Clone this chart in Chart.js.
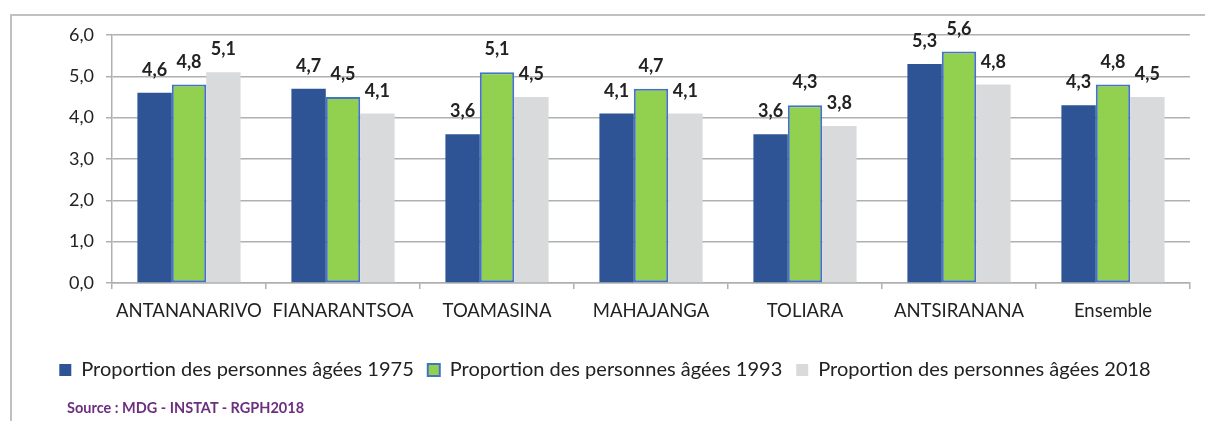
<!DOCTYPE html>
<html>
<head>
<meta charset="utf-8">
<script src="https://cdn.jsdelivr.net/npm/chart.js@4/dist/chart.umd.min.js"></script>
<style>
  html, body { margin: 0; padding: 0; background: #fff; }
  #wrap { position: relative; width: 1205px; height: 421px; overflow: hidden; }
  #frame { position: absolute; left: 10px; top: 14px; right: -5px; bottom: -5px;
    border-left: 2px solid #c0c0c0; border-top: 2px solid #c0c0c0; }
  #source { position: absolute; left: 67px; top: 399px; font: bold 14.5px Lato, sans-serif;
    color: #6d2e80; }
  canvas { position: absolute; left: 0; top: 0; }
</style>
</head>
<body>
<div id="wrap">
  <div id="frame"></div>
  <canvas id="chart" width="1205" height="421"></canvas>
  <div id="source">Source : MDG - INSTAT - RGPH2018</div>
</div>
<script>
'use strict';

var regions = ['ANTANANARIVO', 'FIANARANTSOA', 'TOAMASINA', 'MAHAJANGA', 'TOLIARA', 'ANTSIRANANA', 'Ensemble'];
var seriesNames = ['Proportion des personnes âgées 1975', 'Proportion des personnes âgées 1993', 'Proportion des personnes âgées 2018'];
var values1975 = [4.6, 4.7, 3.6, 4.1, 3.6, 5.3, 4.3];
var values1993 = [4.8, 4.5, 5.1, 4.7, 4.3, 5.6, 4.8];
var values2018 = [5.1, 4.1, 4.5, 4.1, 3.8, 4.8, 4.5];
var yTicks = [0, 1, 2, 3, 4, 5, 6];

function comma(v) {
  return v.toFixed(1).replace('.', ',');
}

// draws the value above each bar
var barLabels = {
  id: 'barLabels',
  afterDatasetsDraw: function (chart) {
    var ctx = chart.ctx;
    ctx.save();
    ctx.font = 'bold 18px Lato, sans-serif';
    ctx.fillStyle = '#222';
    ctx.textAlign = 'center';
    ctx.textBaseline = 'alphabetic';
    chart.data.datasets.forEach(function (ds, i) {
      chart.getDatasetMeta(i).data.forEach(function (bar, j) {
        ctx.fillText(comma(ds.data[j]), bar.x, bar.y - 17);
      });
    });
    ctx.restore();
  }
};

var ctx = document.getElementById('chart').getContext('2d');

var chart = new Chart(ctx, {
  type: 'bar',
  data: {
    labels: regions,
    datasets: [{
      label: seriesNames[0],
      data: values1975,
      backgroundColor: '#2e5496',
      borderWidth: 0
    }, {
      label: seriesNames[1],
      data: values1993,
      backgroundColor: '#92d050',
      borderColor: '#4472c4',
      borderWidth: 2,
      borderSkipped: false
    }, {
      label: seriesNames[2],
      data: values2018,
      backgroundColor: '#d9dadc',
      borderWidth: 0
    }]
  },
  options: {
    responsive: false,
    animation: false,
    categoryPercentage: 0.67,
    barPercentage: 1.0,
    layout: { padding: { left: 20, right: 15, top: 35, bottom: 31 } },
    plugins: {
      tooltip: { enabled: false },
      legend: {
        position: 'bottom',
        labels: {
          boxWidth: 12,
          boxHeight: 12,
          padding: 14,
          color: '#222',
          font: { family: 'Lato', size: 20 }
        }
      }
    },
    scales: {
      x: {
        afterFit: function (scale) { scale.height = 63; },
        grid: { drawOnChartArea: false, drawTicks: true, tickLength: 6, color: '#b0b0b0', lineWidth: 1.5 },
        border: { color: '#b0b0b0', width: 1.5 },
        ticks: { color: '#222', padding: 11, font: { family: 'Lato', size: 18.5 } }
      },
      y: {
        min: 0,
        max: 6,
        afterFit: function (scale) { scale.width = 92; },
        afterBuildTicks: function (scale) {
          scale.ticks = yTicks.map(function (v) { return { value: v }; });
        },
        grid: { color: '#b0b0b0', lineWidth: 1.5, tickLength: 6 },
        border: { color: '#b0b0b0', width: 1.5 },
        ticks: {
          color: '#222',
          padding: 12,
          font: { family: 'Lato', size: 18 },
          callback: function (v) { return comma(v); }
        }
      }
    }
  },
  plugins: [barLabels]
});
</script>
</body>
</html>
